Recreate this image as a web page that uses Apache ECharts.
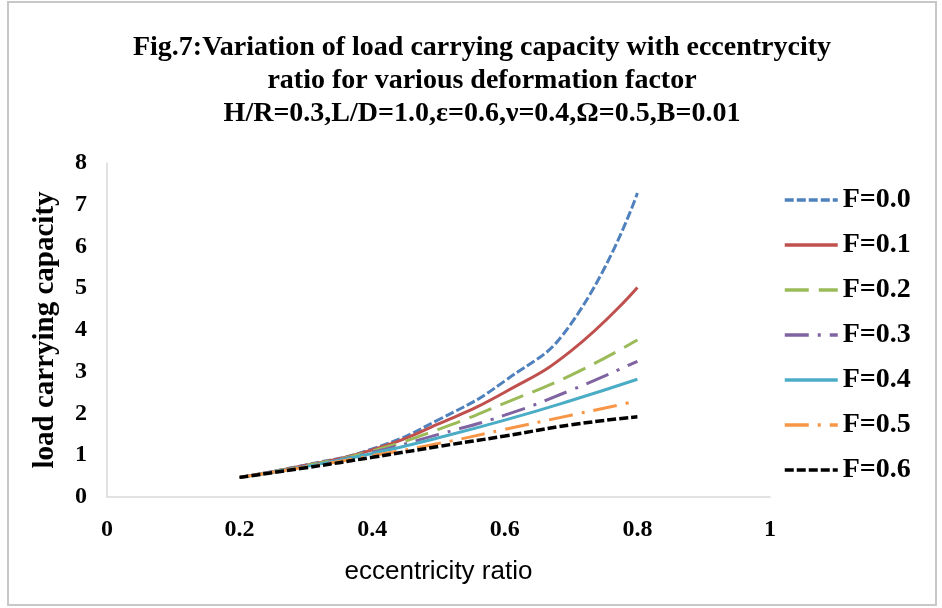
<!DOCTYPE html>
<html>
<head>
<meta charset="utf-8">
<title>Fig.7</title>
<script src="https://cdn.jsdelivr.net/npm/echarts@6/dist/echarts.min.js"></script>
<style>
  html, body { margin: 0; padding: 0; background: #fff; }
  #chart { width: 942px; height: 608px; }
</style>
</head>
<body>
<div id="chart"></div>
<script>
// eccentricity ratio
const ecc = [0.2, 0.3, 0.4, 0.5, 0.6, 0.7, 0.8]
// load carrying capacity for each deformation factor F
const f00 = [0.47, 0.77, 1.15, 1.85, 2.78, 4.15, 7.28]
const f01 = [0.47, 0.76, 1.13, 1.75, 2.51, 3.50, 5.02]
const f02 = [0.47, 0.75, 1.10, 1.62, 2.25, 2.92, 3.76]
const f03 = [0.47, 0.74, 1.07, 1.50, 1.96, 2.56, 3.25]
const f04 = [0.47, 0.73, 1.04, 1.42, 1.84, 2.31, 2.82]
const f05 = [0.47, 0.72, 0.99, 1.28, 1.62, 1.96, 2.30]
const f06 = [0.47, 0.70, 0.95, 1.21, 1.46, 1.73, 1.92]
const names = ['F=0.0', 'F=0.1', 'F=0.2', 'F=0.3', 'F=0.4', 'F=0.5', 'F=0.6']

const serif = '"Liberation Serif", "Times New Roman", serif'

function line(name, data, color, type, width) {
  return {
    name: name,
    type: 'line',
    smooth: true,
    symbol: 'none',
    data: ecc.map((x, i) => [x, data[i]]),
    lineStyle: { color: color, width: width || 3, type: type },
    itemStyle: { color: color }
  }
}

const chart = echarts.init(document.getElementById('chart'))
chart.setOption({
  animation: false,
  backgroundColor: '#fff',
  title: {
    text: 'Fig.7:Variation of load carrying capacity with eccentrycity\nratio for various deformation factor\nH/R=0.3,L/D=1.0,ε=0.6,ν=0.4,Ω=0.5,B=0.01',
    left: 482,
    top: 31,
    padding: 0,
    textAlign: 'center',
    textStyle: {
      fontFamily: serif,
      fontWeight: 'bold',
      fontSize: 28,
      lineHeight: 33,
      color: '#000'
    }
  },
  legend: {
    orient: 'vertical',
    left: 783,
    top: 186,
    padding: 0,
    itemWidth: 53,
    itemHeight: 20,
    itemGap: 17,
    data: names,
    itemStyle: { opacity: 0 },
    lineStyle: { width: 3.5 },
    textStyle: { fontFamily: serif, fontWeight: 'bold', fontSize: 28, color: '#000' }
  },
  grid: { left: 107, right: 172, top: 163, bottom: 111 },
  xAxis: {
    type: 'value',
    min: 0,
    max: 1,
    interval: 0.2,
    name: 'eccentricity ratio',
    nameLocation: 'middle',
    nameGap: 62,
    nameTextStyle: { fontFamily: '"Liberation Sans", Arial, sans-serif', fontSize: 26, color: '#000' },
    axisLine: { lineStyle: { color: '#d9d9d9', width: 1.5 } },
    axisTick: { show: false },
    splitLine: { show: false },
    axisLabel: { fontFamily: serif, fontWeight: 'bold', fontSize: 24, color: '#000', margin: 21 }
  },
  yAxis: {
    type: 'value',
    min: 0,
    max: 8,
    interval: 1,
    name: 'load carrying capacity',
    nameLocation: 'middle',
    nameGap: 47,
    nameTextStyle: { fontFamily: serif, fontWeight: 'bold', fontSize: 29, color: '#000' },
    axisLine: { show: true, lineStyle: { color: '#d9d9d9', width: 1.5 } },
    axisTick: { show: false },
    splitLine: { show: false },
    axisLabel: { fontFamily: serif, fontWeight: 'bold', fontSize: 24, color: '#000', margin: 20 }
  },
  graphic: [
    {
      type: 'rect',
      shape: { x: 8, y: 2, width: 928, height: 603 },
      style: { fill: null, stroke: '#c8c8c8', lineWidth: 2 },
      silent: true
    }
  ],
  series: [
    line(names[0], f00, '#4F81BD', [9, 3]),
    line(names[1], f01, '#C0504D', 'solid'),
    line(names[2], f02, '#9BBB59', [24, 10]),
    line(names[3], f03, '#8064A2', [24, 9, 3, 9]),
    line(names[4], f04, '#4BACC6', 'solid'),
    line(names[5], f05, '#F79646', [24, 9, 3, 9]),
    line(names[6], f06, '#000000', [9, 3], 3.5)
  ]
})
</script>
</body>
</html>
